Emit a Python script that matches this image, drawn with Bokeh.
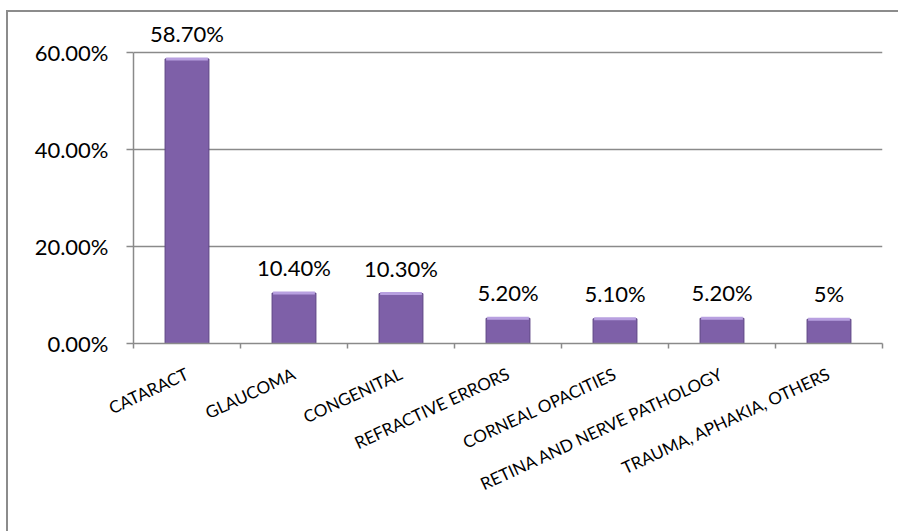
import math
from bokeh.plotting import figure
from bokeh.layouts import column
from bokeh.models import Range1d, FixedTicker, NumeralTickFormatter, LabelSet, ColumnDataSource
from bokeh.core.properties import value
from bokeh.embed import file_html
from bokeh.resources import INLINE

categories = ["CATARACT", "GLAUCOMA", "CONGENITAL", "REFRACTIVE ERRORS",
              "CORNEAL OPACITIES", "RETINA AND NERVE PATHOLOGY", "TRAUMA, APHAKIA, OTHERS"]
values = [0.587, 0.104, 0.103, 0.052, 0.051, 0.052, 0.05]
value_labels = ["58.70%", "10.40%", "10.30%", "5.20%", "5.10%", "5.20%", "5%"]
y_ticks = [0, 0.2, 0.4, 0.6]

FONT = "Lato"
GRAY = "#8a8a8a"

x_pos = [i + 0.5 for i in range(len(categories))]
src = ColumnDataSource(dict(x=x_pos, value=values, label=value_labels, cat=categories))

p = figure(width=898, height=531,
           x_range=Range1d(0, len(categories)), y_range=Range1d(0, 0.66),
           output_backend="svg", toolbar_location=None,
           min_border_left=133, min_border_right=16, min_border_top=23, min_border_bottom=188)
p.outline_line_color = None
p.background_fill_color = "white"
p.border_fill_color = None

# bars
p.vbar(x="x", top="value", width=0.41, source=src,
       fill_color="#7E60A8", line_color="#5C4484", line_width=1)
p.vbar(x="x", top="value", bottom="value", width=0.39, source=src,
       fill_alpha=0, line_color="#B8A0E0", line_width=3)

labels = LabelSet(x="x", y="value", text="label", source=src,
                  text_align="center", text_baseline="alphabetic", y_offset=17,
                  text_font=value(FONT), text_font_size="22px", text_color="black")
p.add_layout(labels)

# x axis
p.xaxis.ticker = FixedTicker(ticks=x_pos, minor_ticks=list(range(len(categories) + 1)))
p.xaxis.major_label_overrides = {xv: c for xv, c in zip(x_pos, categories)}
p.xaxis.major_tick_line_color = None
p.xaxis.major_tick_out = 0
p.xaxis.major_tick_in = 0
p.xaxis.minor_tick_line_color = GRAY
p.xaxis.minor_tick_line_width = 1.5
p.xaxis.minor_tick_out = 5
p.xaxis.minor_tick_in = 0
p.xaxis.axis_line_color = GRAY
p.xaxis.axis_line_width = 1.5
p.xaxis.major_label_orientation = math.radians(25)
p.xaxis.major_label_standoff = 24
p.xaxis.major_label_text_font = FONT
p.xaxis.major_label_text_font_size = "17px"
p.xaxis.major_label_text_color = "black"

# y axis
p.yaxis.ticker = FixedTicker(ticks=y_ticks)
p.yaxis.bounds = (0, 0.6)
p.yaxis.formatter = NumeralTickFormatter(format="0.00%")
p.yaxis.minor_tick_line_color = None
p.yaxis.major_tick_out = 7
p.yaxis.major_tick_in = 0
p.yaxis.major_tick_line_color = GRAY
p.yaxis.major_tick_line_width = 1.5
p.yaxis.axis_line_color = GRAY
p.yaxis.axis_line_width = 1.5
p.yaxis.major_label_standoff = 18
p.yaxis.major_label_text_font = FONT
p.yaxis.major_label_text_font_size = "22px"
p.yaxis.major_label_text_color = "black"

p.xgrid.visible = False
p.ygrid.ticker = FixedTicker(ticks=y_ticks)
p.ygrid.grid_line_color = GRAY
p.ygrid.grid_line_width = 1.5

# chart-area border: only its top and left edges fall inside the picture
layout = column(p, styles={"background": "linear-gradient(#8c8c8c, #8c8c8c) 6px 10px / 2px 700px no-repeat, "
                                         "linear-gradient(#8c8c8c, #8c8c8c) 6px 10px / 1000px 2px no-repeat, "
                                         "#ffffff"})

open("out.html", "w").write(file_html(layout, INLINE))
